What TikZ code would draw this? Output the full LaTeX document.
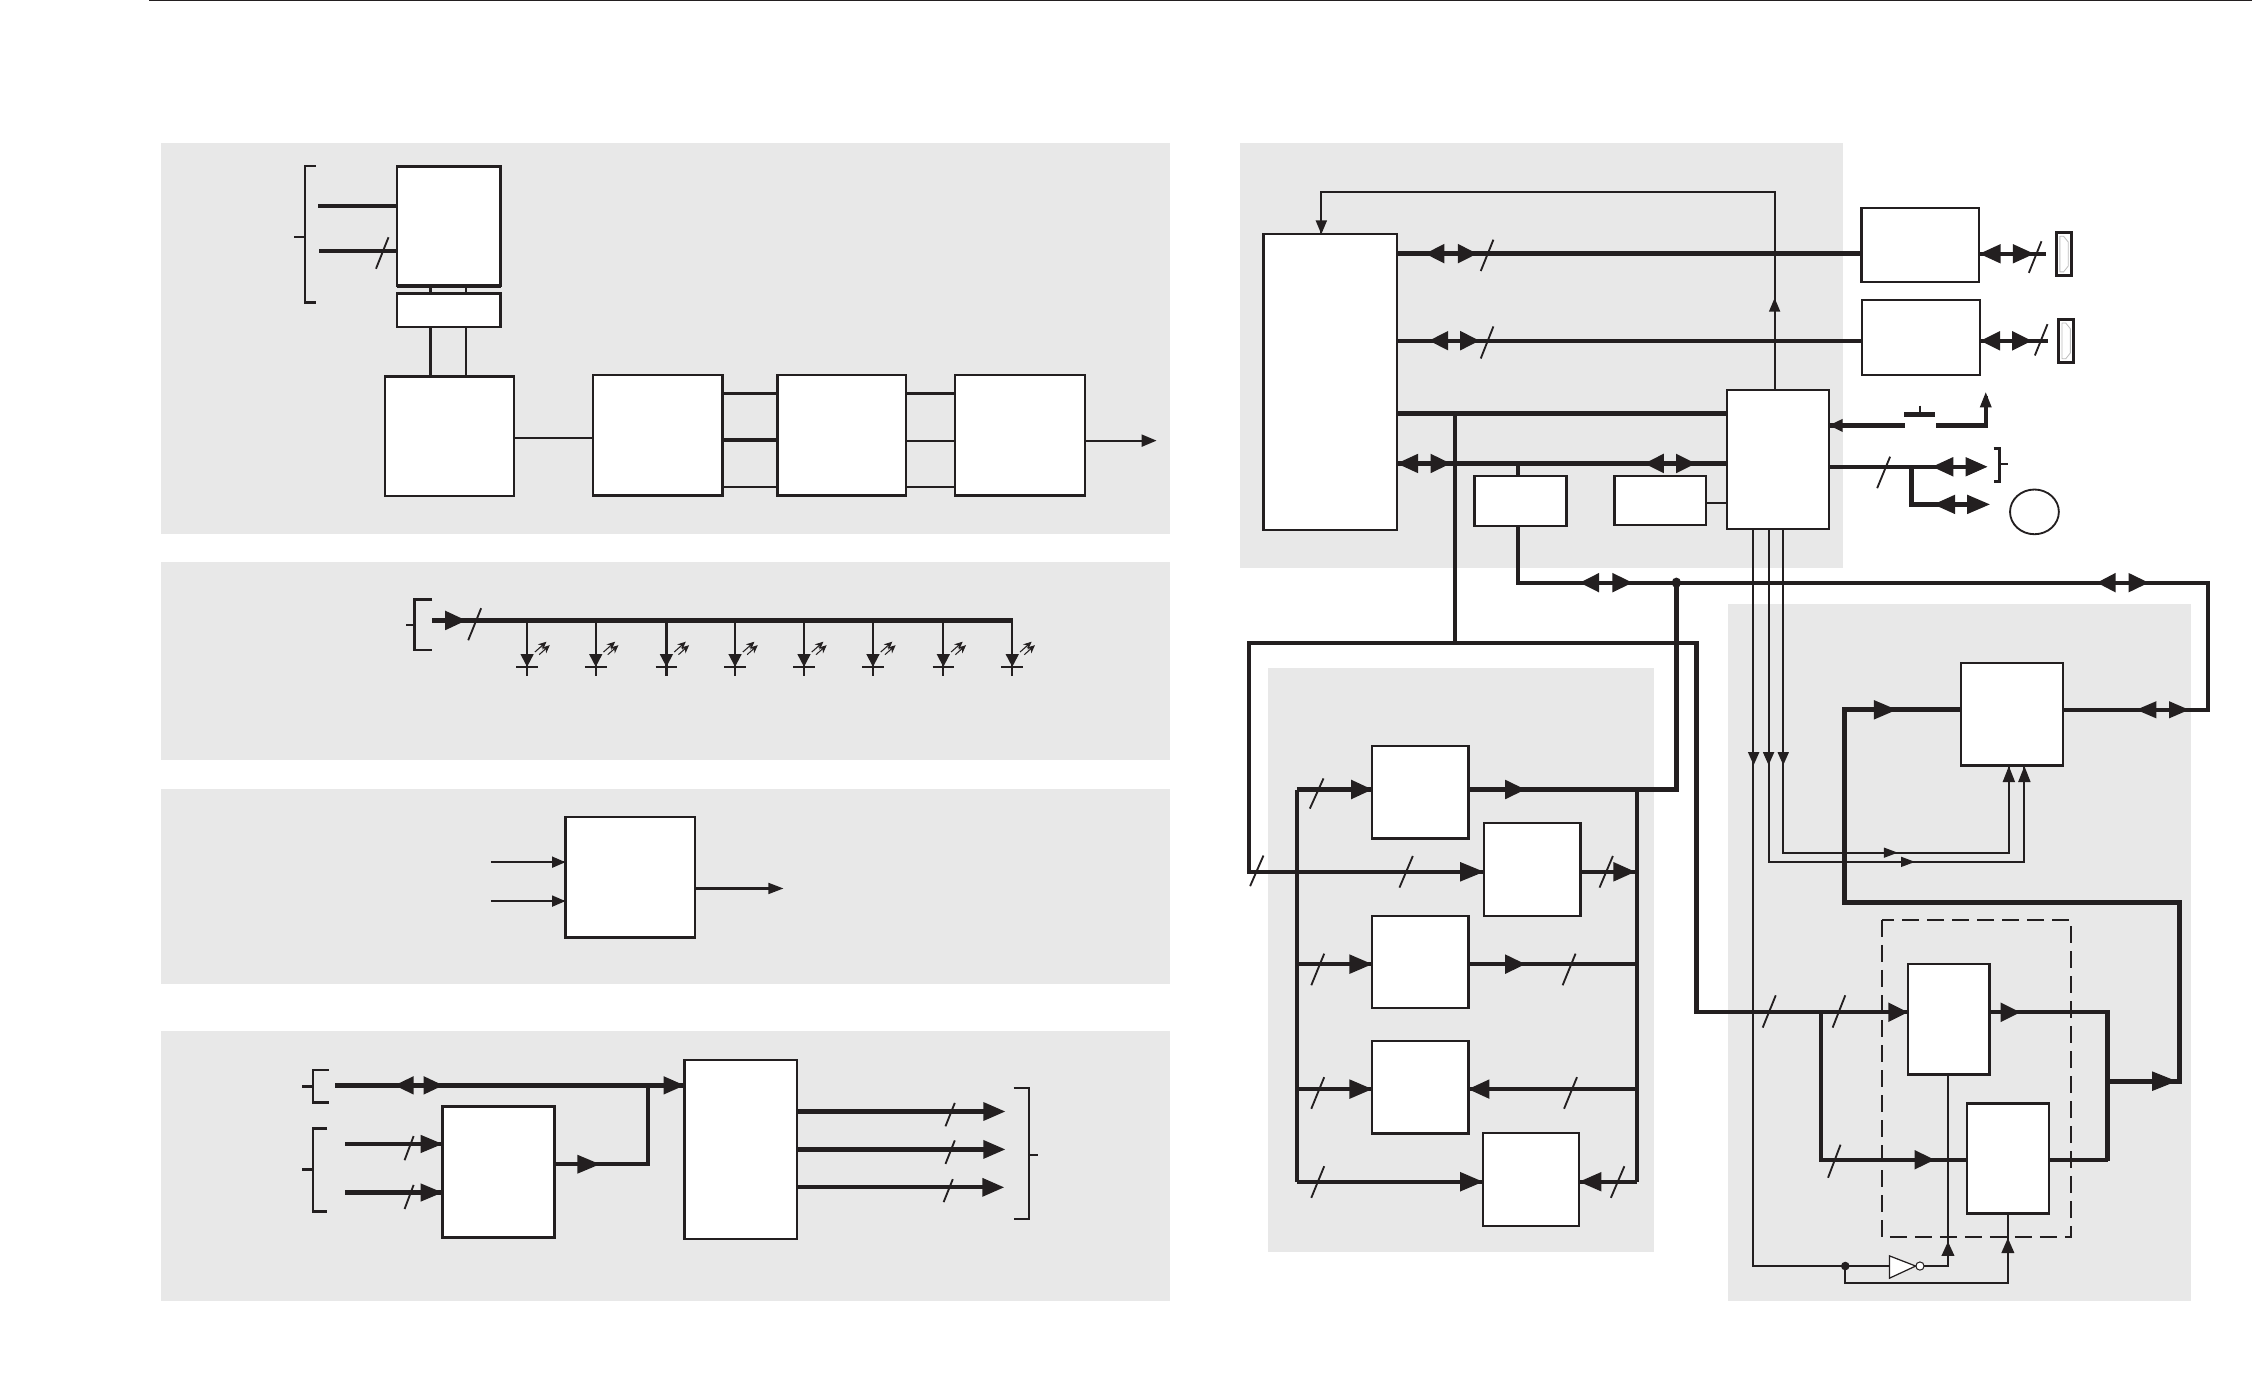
\documentclass[tikz,border=0pt]{standalone}
\usetikzlibrary{fit,arrows.meta,shapes.geometric}
\definecolor{ink}{HTML}{231F20}
\definecolor{pan}{HTML}{E8E8E8}
\definecolor{conn}{HTML}{BDBDBD}
\tikzset{
  boxst/.style={draw=ink,fill=white,line width=1.2pt,inner sep=0pt,outer sep=0pt},
  bus/.style={draw=ink,line width=2.1pt,line join=miter},
  fatbus/.style={draw=ink,line width=2.5pt,line join=miter},
  sig/.style={draw=ink,line width=1.1pt,line join=miter},
  fine/.style={draw=ink,line width=0.95pt,line join=miter},
  slashst/.style={draw=ink,line width=0.9pt},
  flash/.style={draw=ink,line width=0.5pt,-{Stealth[length=4pt,width=3.6pt]}},
}
\newcommand\bx[5]{\node[boxst,fit={(#2,#3)(#4,#5)}] (#1) {};}
\newcommand\ahH[4]{\fill[ink] (#1,#3-#4) -- (#2,#3) -- (#1,#3+#4) -- cycle;}
\newcommand\ahV[4]{\fill[ink] (#1-#4,#2) -- (#1,#3) -- (#1+#4,#2) -- cycle;}
\newcommand\bidi[6]{\ahH{#2}{#1}{#5}{#6}\ahH{#3}{#4}{#5}{#6}}
\newcommand\slsh[4]{\draw[slashst] (#1,#2) -- (#3,#4);}
\begin{document}
\begin{tikzpicture}[x=0.7pt,y=-0.7pt]
\useasboundingbox (0,0) rectangle (1568,969.2);
% panels
\fill[pan] (112,99.5) rectangle (814.5,372);
\fill[pan] (112,391.3) rectangle (814.5,529.5);
\fill[pan] (112,549.3) rectangle (814.5,685);
\fill[pan] (112,717.7) rectangle (814.5,906);
\fill[pan] (863.5,99.5) rectangle (1283.5,395.5);
\fill[pan] (883,465) rectangle (1151.5,871.5);
\fill[pan] (1203,420.3) rectangle (1525.5,906);
\draw[ink,line width=0.6pt] (104,0.6) -- (1568,0.6);
\draw[ink,line width=1pt,dash pattern=on 8.2pt off 4pt] (1310.2,640.5) rectangle (1441.9,861.5);
% ---------- panel 1 boxes
\bx{A}{276.6}{116}{348.5}{199}
\bx{B}{276.6}{204.4}{348.5}{227.6}
\bx{C}{268.2}{262}{357.8}{345.2}
\bx{D}{412.8}{261.2}{503}{345}
\bx{E}{541.2}{261.2}{630.8}{345}
\bx{F}{665}{261.2}{755.4}{345}
\draw[ink,line width=2pt] (A.south west) -- (A.south east);
\foreach \px in {299.7,324.2}{
  \draw[sig] (A.south -| \px,0) -- (B.north -| \px,0);
  \draw[sig] (B.south -| \px,0) -- (C.north -| \px,0);
}
\draw[sig] (C.east |- 0,304.8) -- (D.west |- 0,304.8);
\draw[sig] (D.east |- 0,274) -- (E.west |- 0,274);
\draw[bus] (D.east |- 0,306.5) -- (E.west |- 0,306.5);
\draw[sig] (D.east |- 0,339) -- (E.west |- 0,339);
\draw[sig] (E.east |- 0,274) -- (F.west |- 0,274);
\draw[sig] (E.east |- 0,306.8) -- (F.west |- 0,306.8);
\draw[sig] (E.east |- 0,339) -- (F.west |- 0,339);
\coordinate (fout) at (800,306.8);
\draw[sig] (F.east |- 0,306.8) -- (fout);
\ahH{794.8}{805.2}{306.8}{4.4}
\coordinate (aina) at (221.5,143.6);
\coordinate (ainb) at (222.4,174.9);
\draw[bus] (aina) -- (A.west |- aina);
\draw[bus] (ainb) -- (A.west |- ainb);
\slsh{270.5}{165.2}{261.8}{187.1}
\draw[sig] (220,115.8) -- (212.3,115.8) -- (212.3,210.7) -- (220,210.7);
\draw[sig] (204.8,165) -- (212.3,165);
% ---------- panel 2
\draw[sig] (301,417.4) -- (288.6,417.4) -- (288.6,452.6) -- (301,452.6);
\draw[sig] (282.9,435) -- (288.6,435);
\coordinate (lbs) at (301,432);
\coordinate (lbe) at (705.2,432);
\draw[ink,line width=2.4pt] (lbs) -- (lbe);
\ahH{310}{324.5}{432}{6.8}
\slsh{335}{423.5}{326}{445.8}
\foreach \lx in {367,414.8,464,511.8,559.8,607.8,656.8,704.8}{
  \coordinate (ltop) at (\lx,432);
  \coordinate (lend) at (\lx,470.7);
  \draw[sig] (ltop) -- (lend);
  \ahV{\lx}{455.5}{464.3}{4.6}
  \draw[sig] (\lx-7.5,464.3) -- (\lx+7.5,464.3);
  \draw[flash] (\lx+5.4,454) -- (\lx+13.5,446.8);
  \draw[flash] (\lx+8.4,455.8) -- (\lx+15.8,449.2);
}
% ---------- panel 3
\bx{G}{393.6}{569}{484}{652.7}
\coordinate (gina) at (341.8,600.3);
\coordinate (ginb) at (341.8,627.4);
\coordinate (gout) at (540,618.6);
\draw[sig] (gina) -- (G.west |- gina);
\draw[sig] (ginb) -- (G.west |- ginb);
\draw[sig] (G.east |- gout) -- (gout);
\ahH{384.4}{393.6}{600.3}{4}
\ahH{384.4}{393.6}{627.4}{4}
\ahH{535}{545.4}{618.6}{4}
% ---------- panel 4
\bx{H}{308}{770.3}{386}{861.5}
\bx{I}{476.5}{738}{555}{862.5}
\draw[sig] (229,745) -- (217.8,745) -- (217.8,767.6) -- (229,767.6);
\draw[sig] (210.4,756.4) -- (217.8,756.4);
\draw[sig] (228,785.7) -- (217.8,785.7) -- (217.8,843.5) -- (228,843.5);
\draw[sig] (210.4,814.2) -- (217.8,814.2);
\coordinate (ibus) at (233.5,755.7);
\draw[bus] (ibus) -- (I.west |- ibus);
\bidi{274.7}{288}{295}{308.5}{755.7}{6.4}
\ahH{462}{476.5}{755.7}{6.4}
\coordinate (hina) at (240.5,796.5);
\coordinate (hinb) at (240.5,830.3);
\draw[bus] (hina) -- (H.west |- hina);
\draw[bus] (hinb) -- (H.west |- hinb);
\ahH{292.8}{308}{796.5}{6.4}
\ahH{292.8}{308}{830.3}{6.4}
\slsh{288}{791}{281.7}{807.8}
\slsh{288}{825}{281.7}{841.8}
\coordinate (hup) at (451,755.7);
\draw[bus] (H.east |- 0,810.6) -- (451,810.6) -- (hup);
\ahH{402}{417.7}{810.6}{6.6}
\coordinate (ioa) at (690,773.9);
\coordinate (iob) at (690,800.3);
\coordinate (ioc) at (690,826.7);
\draw[bus] (I.east |- ioa) -- (ioa);
\draw[bus] (I.east |- iob) -- (iob);
\draw[bus] (I.east |- ioc) -- (ioc);
\ahH{684.7}{699.8}{773.9}{6.6}
\ahH{684.7}{699.8}{800.3}{6.6}
\ahH{684}{699}{826.7}{6.6}
\slsh{664.8}{767.9}{658.3}{784.2}
\slsh{664.8}{794}{658.3}{810.4}
\slsh{663.4}{821}{657}{837}
\draw[sig] (705.8,757.6) -- (716.2,757.6) -- (716.2,848.6) -- (705.8,848.6);
\draw[sig] (716.2,804.4) -- (723,804.4);
% ---------- panel 5 boxes
\bx{J}{879.7}{163}{972.6}{369}
\bx{K}{1202.6}{271.5}{1273.6}{368.3}
\bx{L}{1296}{145}{1378}{196.2}
\bx{M}{1296.4}{208.8}{1378.6}{261}
\bx{N}{1026.6}{331.5}{1090.8}{366.2}
\bx{O}{1124}{331.5}{1187.9}{365.6}
% connectors strip
\foreach \cx/\cy/\cz in {1432/162/191.8,1433.5/222.4/252.3}{
  \draw[ink,fill=white,line width=1.4pt] (\cx,\cy) rectangle (\cx+10.4,\cz);
  \draw[conn,line width=0.4pt] (\cx+2.2,\cy+2.5) -- (\cx+4.8,\cy+2.5) -- (\cx+8,\cy+6.5) -- (\cx+8,\cz-6.5) -- (\cx+4.8,\cz-2.5) -- (\cx+2.2,\cz-2.5) -- cycle;
}
% feedback
\draw[sig] (K.north -| 1235.6,0) -- (1235.6,133.9) -- (920,133.9) -- (J.north -| 920,0);
\ahV{920}{153.5}{163}{4}
\ahV{1235.6}{217}{207.5}{4}
% J - L, J - M
\draw[bus] (J.east |- 0,176.6) -- (L.west |- 0,176.6);
\draw[bus] (J.east |- 0,237.2) -- (M.west |- 0,237.2);
\bidi{992.3}{1005.6}{1015}{1028.5}{176.6}{6.8}
\bidi{995}{1008.3}{1016.7}{1030}{237.2}{6.8}
\slsh{1039.8}{166.9}{1031}{188.7}
\slsh{1039.8}{227.3}{1031}{249.6}
\coordinate (lr) at (1424.7,176.7);
\coordinate (mr) at (1426,237.3);
\draw[bus] (L.east |- lr) -- (lr);
\draw[bus] (M.east |- mr) -- (mr);
\bidi{1378.2}{1393}{1401.4}{1416.3}{176.7}{6.8}
\bidi{1379}{1392.6}{1401}{1414.7}{237.3}{6.8}
\slsh{1421.4}{168}{1412.6}{190}
\slsh{1425.6}{225.7}{1416.8}{247.5}
% J - K
\draw[bus] (J.east |- 0,287.9) -- (K.west |- 0,287.9);
\draw[bus] (J.east |- 0,322.7) -- (K.west |- 0,322.7);
\bidi{972.6}{987.4}{996}{1010}{322.7}{6.8}
\bidi{1145}{1158.4}{1167}{1180.6}{322.7}{6.8}
\coordinate (jtop) at (1013.2,287.9);
\coordinate (jbot) at (1013.2,447.6);
\draw[bus] (jtop) -- (jbot);
% N, O
\draw[bus] (N.north -| 1056.7,0) -- (1056.7,322.7);
\draw[sig] (O.east |- 0,350) -- (K.west |- 0,350);
% bus under N to R
\bx{R}{1365.4}{461.8}{1436.4}{533}
\coordinate (bdot) at (1167.2,405.7);
\draw[bus] (N.south -| 1056.7,0) -- (1056.7,405.7) -- (1537.3,405.7) -- (1537.3,494.2) -- (R.east |- 0,494.2);
\bidi{1100}{1113.4}{1122.7}{1136.5}{405.7}{6.8}
\bidi{1460}{1473}{1482}{1496}{405.7}{6.8}
\bidi{1487.4}{1501.4}{1510.2}{1524.1}{494.2}{6}
\fill[ink] (bdot) ellipse (3.2 and 3.6);
% K right side
\coordinate (swl) at (1326.5,296.2);
\coordinate (swr) at (1348,296.2);
\coordinate (swt) at (1382.6,276);
\draw[bus] (K.east |- swl) -- (swl);
\draw[bus] (swr) -- (1382.6,296.2) -- (swt);
\ahH{1283}{1273.6}{296.2}{4.6}
\ahV{1382.6}{283.7}{273.2}{4.2}
\draw[bus] (1325.8,288.6) -- (1347.4,288.6);
\draw[sig] (1337,282.5) -- (1337,288.6);
\coordinate (kr) at (1375,325);
\coordinate (kb) at (1375,351.2);
\draw[bus] (K.east |- kr) -- (kr);
\draw[bus] (1330.9,325) -- (1330.9,351.2) -- (kb);
\bidi{1345.3}{1360}{1368.5}{1383.8}{325}{6.8}
\bidi{1346.2}{1361.3}{1369.6}{1385.4}{351.2}{6.8}
\slsh{1316}{318}{1307}{339.9}
\draw[sig] (1388,312.2) -- (1392.2,312.2) -- (1392.2,335.2) -- (1388,335.2);
\draw[fine] (1392.2,323) -- (1398,323);
\node[draw=ink,line width=0.9pt,ellipse,minimum width=23.8pt,minimum height=21.8pt,inner sep=0pt,outer sep=0pt] (el) at (1416.5,356.4) {};
% ---------- panel 6 boxes
\bx{Pa}{955.4}{519.3}{1022.3}{583.7}
\bx{Qa}{1033.2}{573}{1100.5}{637.8}
\bx{Pb}{955.4}{637.8}{1022.3}{701.7}
\bx{Pc}{955.4}{724.8}{1022.3}{789.3}
\bx{Qb}{1032.5}{788.7}{1099.5}{853.5}
\coordinate (lbt) at (903,549.7);
\coordinate (lbb) at (903,822.8);
\coordinate (rbt) at (1140,549.7);
\coordinate (rbb) at (1140,822.8);
\draw[bus] (lbt) -- (lbb);
\draw[bus] (rbt) -- (rbb);
\draw[bus] (lbt) -- (Pa.west |- lbt);
\draw[bus] (903,671.3) -- (Pb.west |- 0,671.3);
\draw[bus] (903,758.3) -- (Pc.west |- 0,758.3);
\draw[bus] (lbb) -- (Qb.west |- lbb);
\draw[bus] (Qa.east |- 0,607) -- (1140,607);
\draw[bus] (Pb.east |- 0,671.3) -- (1140,671.3);
\draw[bus] (Pc.east |- 0,758.3) -- (1140,758.3);
\draw[bus] (Qb.east |- rbb) -- (rbb);
\draw[bus] (Pa.east |- rbt) -- (1167.2,549.7) -- (bdot);
% main loop
\bx{S}{1328.4}{671.2}{1385.2}{748}
\bx{T}{1369.6}{768.2}{1426.6}{845}
\draw[bus] (Qa.west |- 0,607) -- (869.7,607) -- (869.7,447.6) -- (1181.2,447.6) -- (1181.2,704.8) -- (S.west |- 0,704.8);
\ahH{940.8}{955.4}{549.7}{6.8}
\ahH{1048}{1062}{549.7}{6.8}
\ahH{1016.7}{1033.2}{607}{6.8}
\ahH{1123.4}{1138.5}{607}{6.8}
\ahH{939.6}{955.4}{671.3}{6.8}
\ahH{1048}{1062}{671.3}{6.8}
\ahH{939.6}{955.4}{758.3}{6.8}
\ahH{1037}{1022.3}{758.3}{6.8}
\ahH{1016.7}{1032.5}{822.8}{6.8}
\ahH{1115}{1099.5}{822.8}{6.8}
\slsh{921.5}{542}{912}{563}
\slsh{879.7}{595.7}{870.4}{617}
\slsh{983.7}{596}{974.4}{618}
\slsh{1123}{596}{1113.7}{618}
\slsh{922}{664}{913}{686}
\slsh{1097}{664}{1088}{686}
\slsh{922}{750}{913}{772}
\slsh{1098}{750}{1089}{772}
\slsh{922}{812}{913}{834}
\slsh{1131}{812}{1121.6}{834}
% ---------- panel 7
\draw[fatbus] (R.west |- 0,494.2) -- (1284,494.2) -- (1284,628.6) -- (1517.5,628.6) -- (1517.5,752.8) -- (1467.5,752.8);
\ahH{1304.7}{1320.6}{494.2}{6.8}
\ahH{1498.5}{1515.5}{752.8}{6.8}
\draw[bus] (S.east |- 0,704.8) -- (1467.5,704.8);
\draw[bus] (T.east |- 0,807.5) -- (1467.5,807.5);
\draw[fatbus] (1467.5,703.5) -- (1467.5,808.7);
\draw[bus] (1267.8,704.8) -- (1267.8,807.5) -- (T.west |- 0,807.5);
\ahH{1314.8}{1328.4}{704.8}{6.8}
\ahH{1333}{1347}{807.5}{6.8}
\ahH{1393}{1406.6}{704.8}{6.8}
\slsh{1236.4}{693}{1227.3}{715.5}
\slsh{1284.8}{693}{1276}{715.5}
\slsh{1281.5}{797}{1272.8}{820}
% thin signals
\coordinate (dot) at (1284.8,881.5);
\node[circle,draw=ink,fill=white,line width=0.5pt,minimum size=4pt,inner sep=0pt,outer sep=0pt] (bub) at (1336.8,881.5) {};
\draw[fine] (K.south -| 1220.8,0) -- (1220.8,881.5) -- (1315.5,881.5);
\draw[fine] (K.south -| 1231.4,0) -- (1231.4,600.1) -- (1409.5,600.1) -- (R.south -| 1409.5,0);
\draw[fine] (K.south -| 1241.6,0) -- (1241.6,593.7) -- (1398.7,593.7) -- (R.south -| 1398.7,0);
\ahV{1221}{523.7}{532.7}{4}
\ahV{1231.4}{523.7}{532.7}{4}
\ahV{1241.6}{523.7}{532.7}{4}
\ahV{1398.7}{544.6}{533.4}{4.4}
\ahV{1409.5}{544.6}{533.4}{4.4}
\ahH{1311.7}{1321.3}{593.7}{3.6}
\ahH{1323.7}{1333.3}{600.1}{3.6}
\fill[ink] (dot) ellipse (3 and 3);
\draw[ink,fill=white,line width=0.6pt,line join=miter] (1315.5,874.4) -- (1333.8,881.5) -- (1315.5,890) -- cycle;
\draw[sig] (S.south -| 1356.3,0) -- (1356.3,881.5) -- (bub.east);
\draw[fine] (dot) -- (1284.8,893) -- (1398,893) -- (T.south -| 1398,0);
\ahV{1356.3}{874.5}{864.5}{4.6}
\ahV{1398}{872.5}{862}{4.6}
\end{tikzpicture}
\end{document}
